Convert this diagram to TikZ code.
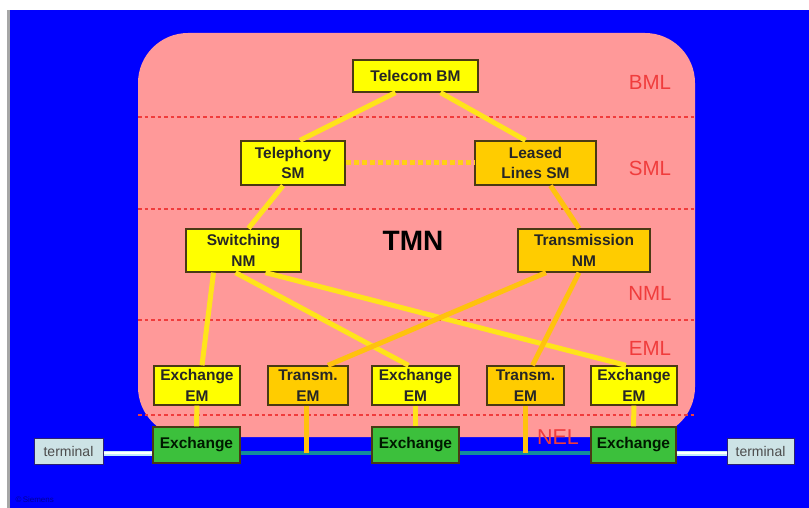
\documentclass[tikz,border=0pt]{standalone}
\usepackage{fontspec}
\setmainfont{Liberation Sans}
\definecolor{bgblue}{HTML}{0000FF}
\definecolor{tmnpink}{HTML}{FF9999}
\definecolor{mgmtyellow}{HTML}{FFFF00}
\definecolor{mgmtorange}{HTML}{FFCC00}
\definecolor{lineyellow}{HTML}{FFE41A}
\definecolor{lineorange}{HTML}{FFC20E}
\definecolor{exgreen}{HTML}{3CC03C}
\definecolor{termgray}{HTML}{CDE3E6}
\definecolor{layerred}{HTML}{F03C3C}
\definecolor{boxborder}{HTML}{4A3A14}
\definecolor{trunkteal}{HTML}{148C9C}

\tikzset{
	box/.style = {draw = boxborder, line width = 1.3pt, fill = mgmtyellow, align = center, inner sep = 0pt, font = \fontsize{15.5}{20.5}\selectfont\bfseries, text = black!85},
	obox/.style = {box, fill = mgmtorange},
	exbox/.style = {box, fill = exgreen, minimum height = 36pt, text = green!10!black},
	termbox/.style = {draw = boxborder!60!blue, line width = 1pt, fill = termgray, inner sep = 0pt, minimum height = 26pt, font = \fontsize{14}{16}\selectfont, text = black!70},
	layer/.style = {text = layerred, font = \fontsize{20.5}{22}\selectfont},
	link/.style = {lineyellow, line width = 5pt},
	olink/.style = {lineorange, line width = 5pt},
	dotlink/.style = {color = lineyellow!80!orange, line width = 5pt, dash pattern = on 5pt off 3pt},
	layerline/.style = {layerred, line width = 1.1pt, dash pattern = on 3.5pt off 3pt},
	trunk/.style = {trunkteal, line width = 4.5pt},
	access/.style = {draw = cyan!25!white, line width = 1.2pt, double = white, double distance = 2.6pt}
}

\begin{document}
\begin{tikzpicture}[x = 1pt, y = -1pt]
	\useasboundingbox (0,0) rectangle (809,508);
	\fill[white] (0,0) rectangle (809,508);
	\fill[gray!70] (7,10) rectangle (9.5,508);
	\fill[bgblue] (9.5,10) rectangle (809,508);
	\fill[tmnpink, rounded corners = 50pt] (138,33) rectangle (695,437);

	% layer boundaries
	\foreach \ly in {117,209,320,415}
		\draw[layerline] (138,\ly) -- (695,\ly);

	\node (bml)[layer] at (650,82) {BML};
	\node (sml)[layer] at (650,168) {SML};
	\node (nml)[layer] at (650,293) {NML};
	\node (eml)[layer] at (650,348) {EML};
	\node (tmn)[font = \fontsize{28}{30}\selectfont\bfseries] at (413,241) {TMN};

	% management boxes
	\node (tbm)[box, minimum width = 125pt, minimum height = 32pt] at (415.5,76) {Telecom BM};
	\node (tsm)[box, minimum width = 104pt, minimum height = 44pt] at (293,163) {Telephony\\SM};
	\node (lsm)[obox, minimum width = 121pt, minimum height = 44pt] at (535.5,163) {Leased\\Lines SM};
	\node (snm)[box, minimum width = 115pt, minimum height = 43pt] at (243.5,250.5) {Switching\\NM};
	\node (tnm)[obox, minimum width = 132pt, minimum height = 43pt] at (584,250.5) {Transmission\\NM};

	\node (eem1)[box, minimum width = 86pt, minimum height = 39pt] at (197,385.5) {Exchange\\EM};
	\node (tem1)[obox, minimum width = 80pt, minimum height = 39pt] at (308,385.5) {Transm.\\EM};
	\node (eem2)[box, minimum width = 87pt, minimum height = 39pt] at (415.5,385.5) {Exchange\\EM};
	\node (tem2)[obox, minimum width = 77pt, minimum height = 39pt] at (525.5,385.5) {Transm.\\EM};
	\node (eem3)[box, minimum width = 86pt, minimum height = 39pt] at (634,385.5) {Exchange\\EM};

	% network elements
	\node (ex1)[exbox, minimum width = 87pt] at (196.5,445) {Exchange};
	\node (ex2)[exbox, minimum width = 87pt] at (415.5,445) {Exchange};
	\node (ex3)[exbox, minimum width = 85pt] at (633.5,445) {Exchange};
	\node (tl)[termbox, minimum width = 69pt] at (68.5,451) {terminal};
	\node (tr)[termbox, minimum width = 67pt] at (760.5,451) {terminal};
	\node (nel)[layer, font = \fontsize{21.5}{23}\selectfont] at (558,437) {NEL};

	\coordinate (tap1) at (306,453);
	\coordinate (tap2) at (525,453);

	\draw[trunk] (ex1.east |- tap1) -- (ex2.west |- tap1);
	\draw[trunk] (ex2.east |- tap1) -- (ex3.west |- tap1);
	\draw[access] (tl.east |- tap1) -- (ex1.west |- tap1);
	\draw[access] (ex3.east |- tap1) -- (tr.west |- tap1);

	% management links
	\draw[link] ([xshift = -20pt]tbm.south) -- ([xshift = 7pt]tsm.north);
	\draw[link] ([xshift = 25pt]tbm.south) -- ([xshift = -10pt]lsm.north);
	\draw[dotlink] (tsm) -- (lsm);
	\draw[link] ([xshift = -10pt]tsm.south) -- ([xshift = 5pt]snm.north);
	\draw[olink] ([xshift = 15pt]lsm.south) -- ([xshift = -5pt]tnm.north);
	\draw[link] ([xshift = -30pt]snm.south) -- ([xshift = 5pt]eem1.north);
	\draw[link] ([xshift = -8pt]snm.south) -- ([xshift = -7pt]eem2.north);
	\draw[link] ([xshift = 22pt]snm.south) -- ([xshift = -8pt]eem3.north);
	\draw[olink] ([xshift = -38pt]tnm.south) -- ([xshift = 20pt]tem1.north);
	\draw[olink] ([xshift = -5pt]tnm.south) -- ([xshift = 7pt]tem2.north);
	\draw[link] (eem1) -- (ex1);
	\draw[link] (eem2) -- (ex2);
	\draw[link] (eem3) -- (ex3);
	\draw[olink] (tap1 |- tem1.south) -- (tap1);
	\draw[olink] (tap2 |- tem2.south) -- (tap2);

	\node (copy)[anchor = west, text = blue!60!black, font = \fontsize{8}{9}\selectfont] at (12,500) {\textcopyright\,Siemens};
\end{tikzpicture}
\end{document}
